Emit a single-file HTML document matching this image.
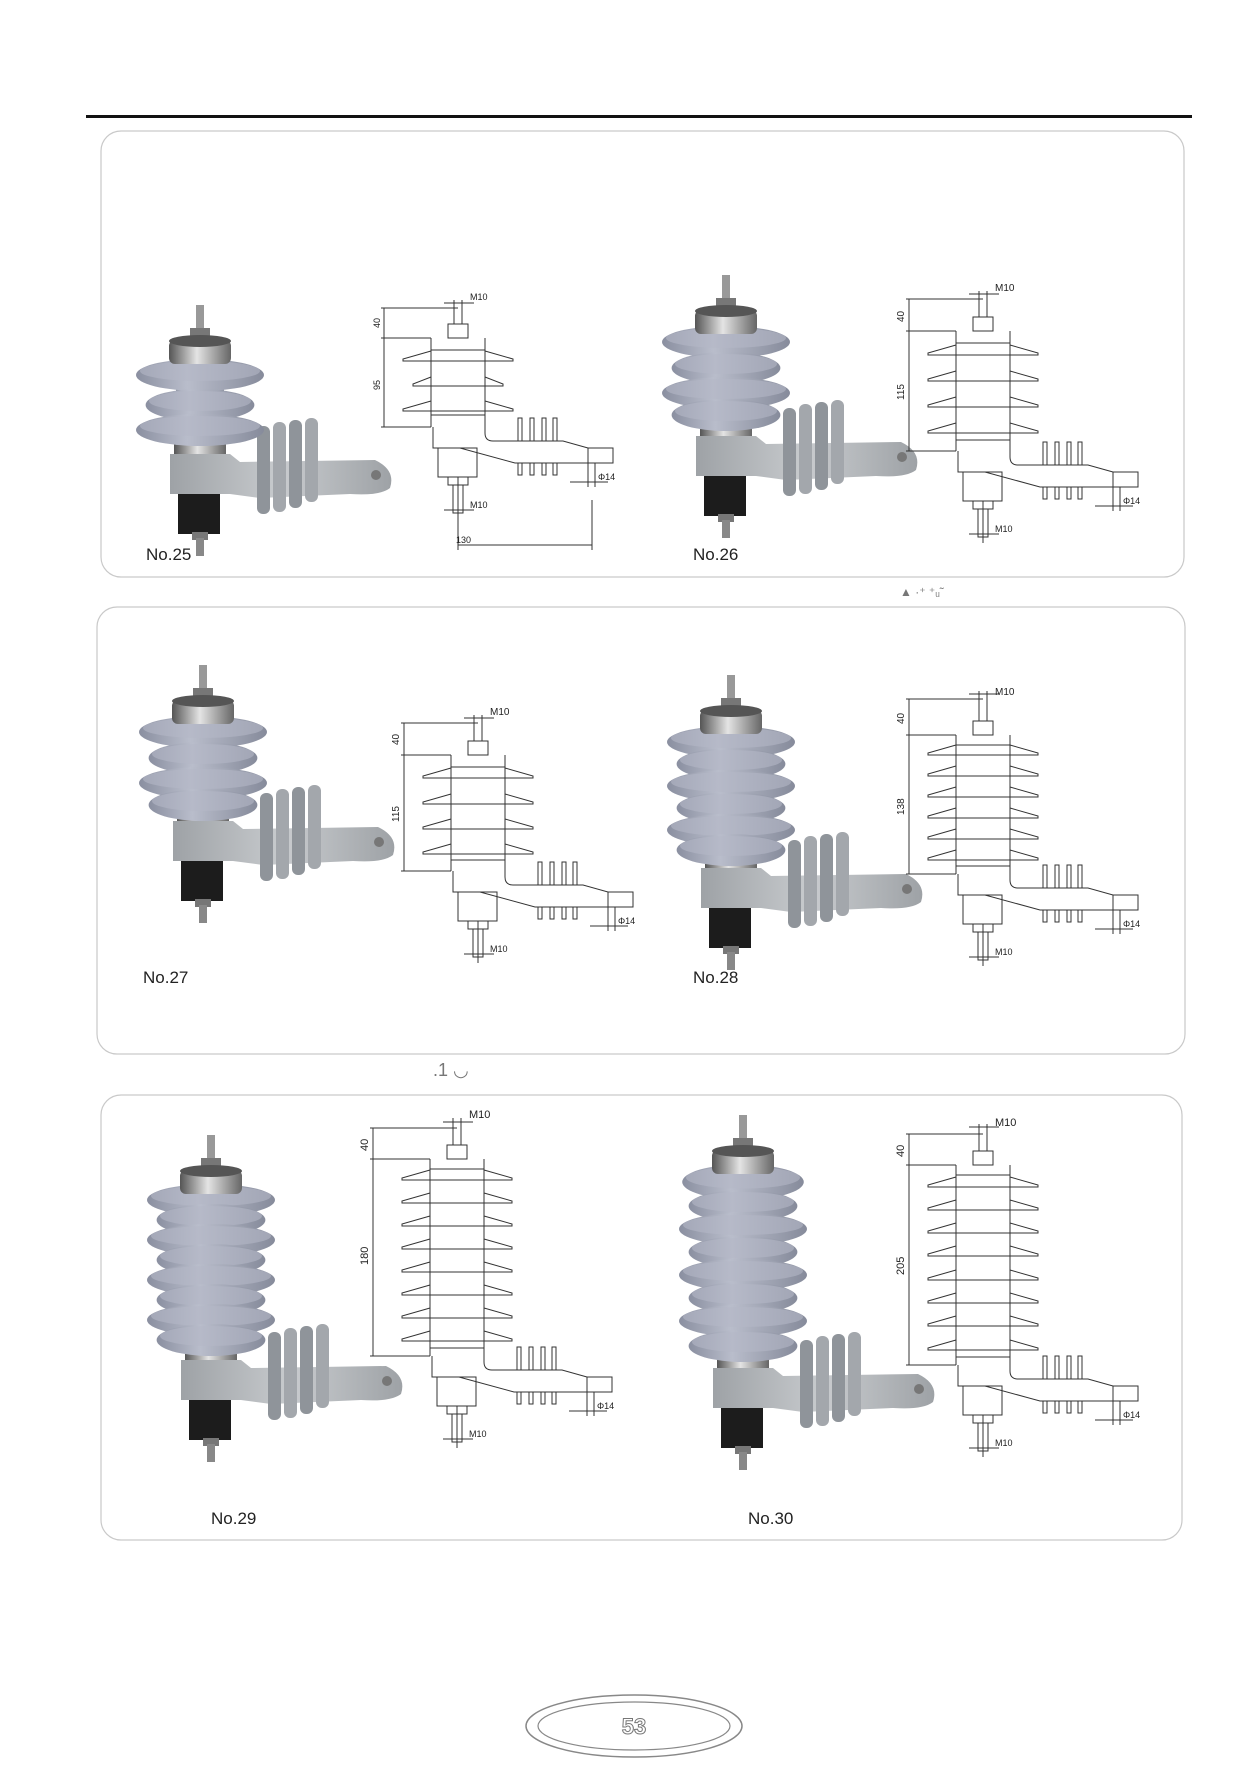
<!DOCTYPE html>
<html><head><meta charset="utf-8"><style>
html,body{margin:0;padding:0;background:#fff}
body{width:1257px;height:1766px;position:relative;overflow:hidden;font-family:"Liberation Sans",sans-serif}
</style></head><body>
<svg width="1257" height="1766" viewBox="0 0 1257 1766" xmlns="http://www.w3.org/2000/svg" style="position:absolute;left:0;top:0">
<defs>
<linearGradient id="shed" x1="0" y1="0" x2="1" y2="0">
<stop offset="0" stop-color="#8a8fa0"/><stop offset="0.4" stop-color="#b9bdcb"/><stop offset="1" stop-color="#868b9b"/></linearGradient>
<linearGradient id="metal" x1="0" y1="0" x2="1" y2="0">
<stop offset="0" stop-color="#555"/><stop offset="0.45" stop-color="#e4e4e4"/><stop offset="1" stop-color="#666"/></linearGradient>
<linearGradient id="gray" x1="0" y1="0" x2="1" y2="0">
<stop offset="0" stop-color="#9ea2a6"/><stop offset="0.5" stop-color="#c8cbce"/><stop offset="1" stop-color="#9ea2a6"/></linearGradient>
<g id="pbase">
<rect x="-26" y="-4" width="52" height="12" fill="url(#metal)"/>
<path d="M-30,6 L30,6 L40,14 L175,12 Q196,22 190,40 Q180,48 150,46 L60,50 L30,46 L-30,46 Z" fill="url(#gray)"/>
<circle cx="176" cy="27" r="5" fill="#777"/>
<rect x="57" y="-22" width="13" height="88" rx="6" fill="#8f949a"/>
<rect x="73" y="-26" width="13" height="90" rx="6" fill="#a3a7ac"/>
<rect x="89" y="-28" width="13" height="88" rx="6" fill="#8f949a"/>
<rect x="105" y="-30" width="13" height="84" rx="6" fill="#a3a7ac"/>
<rect x="-22" y="46" width="42" height="40" fill="#1c1c1c"/>
<rect x="-8" y="84" width="16" height="8" fill="#777"/>
<rect x="-4" y="90" width="8" height="18" fill="#888"/>
</g>
<g id="pcap">
<rect x="-4" y="-45" width="8" height="35" fill="#999"/>
<rect x="-10" y="-22" width="20" height="12" fill="#777"/>
<rect x="-31" y="-10" width="62" height="24" rx="6" fill="url(#metal)"/>
<ellipse cx="0" cy="-9" rx="31" ry="6" fill="#555"/>
</g>
<g id="dbase" fill="none" stroke="#333" stroke-width="1">
<path d="M-25,0 L-25,21 L2,21 L57,36 L130,36"/>
<path d="M27,0 L27,6 Q27,14 35,14 L105,14 L130,21"/>
<rect x="130" y="21" width="25" height="15"/>
<path d="M60,14 V-9 H64 V14 M72,14 V-9 H76 V14 M84,14 V-9 H88 V14 M95,14 V-9 H99 V14"/>
<path d="M60,36 V48 H64 V36 M72,36 V48 H76 V36 M84,36 V48 H88 V36 M95,36 V48 H99 V36"/>
<rect x="-20" y="21" width="39" height="29"/>
<rect x="-10" y="50" width="20" height="8"/>
<rect x="-5" y="58" width="10" height="28"/>
<path d="M0,50 V92 M-14,83 H16 M130,36 V60 M137,36 V60 M112,55 H150"/>
<text x="12" y="81" font-size="9" fill="#222" stroke="none">M10</text>
<text x="140" y="53" font-size="9" fill="#222" stroke="none">Φ14</text>
</g>
<path id="bigshed" d="M-27,-8 L-55,0 L-55,2 L55,2 L55,0 L27,-8" fill="none" stroke="#333"/>
<path id="smshed" d="M-27,-7 L-45,0 L-45,2 L45,2 L45,0 L27,-7" fill="none" stroke="#333"/>
<g id="bigp"><ellipse cx="0" cy="0" rx="64" ry="16" fill="url(#shed)"/><ellipse cx="0" cy="-4" rx="60" ry="10" fill="#b4b8c6" opacity="0.6"/></g>
</defs>

<rect x="86" y="115" width="1106" height="3" fill="#111"/>
<rect x="101" y="131" width="1083" height="446" rx="20" fill="none" stroke="#c9c9c9" stroke-width="1.2"/>
<rect x="97" y="607" width="1088" height="447" rx="20" fill="none" stroke="#c9c9c9" stroke-width="1.2"/>
<rect x="101" y="1095" width="1081" height="445" rx="20" fill="none" stroke="#c9c9c9" stroke-width="1.2"/>

<g font-size="17" fill="#222">
<text x="146" y="560">No.25</text><text x="693" y="560">No.26</text>
<text x="143" y="983">No.27</text><text x="693" y="983">No.28</text>
<text x="211" y="1524">No.29</text><text x="748" y="1524">No.30</text>
</g>

<!-- Photos -->
<!-- 25 -->
<g transform="translate(200,0)">
<use href="#pbase" y="448"/>
<rect x="-24" y="365" width="48" height="80" fill="#8c91a0"/>
<use href="#bigp" y="375"/><use href="#bigp" transform="translate(0,405) scale(0.85,1)"/><use href="#bigp" y="430"/>
<use href="#pcap" y="350"/>
</g>
<!-- 26 -->
<g transform="translate(726,0)">
<use href="#pbase" y="430"/>
<rect x="-24" y="331" width="48" height="95" fill="#8c91a0"/>
<use href="#bigp" y="342"/><use href="#bigp" transform="translate(0,368) scale(0.85,1)"/><use href="#bigp" y="393"/><use href="#bigp" transform="translate(0,415) scale(0.85,1)"/>
<use href="#pcap" y="320"/>
</g>
<!-- 27 -->
<g transform="translate(203,0)">
<use href="#pbase" y="815"/>
<rect x="-24" y="718" width="48" height="95" fill="#8c91a0"/>
<use href="#bigp" y="732"/><use href="#bigp" transform="translate(0,758) scale(0.85,1)"/><use href="#bigp" y="783"/><use href="#bigp" transform="translate(0,805) scale(0.85,1)"/>
<use href="#pcap" y="710"/>
</g>
<!-- 28 -->
<g transform="translate(731,0)">
<use href="#pbase" y="862"/>
<rect x="-24" y="731" width="48" height="128" fill="#8c91a0"/>
<use href="#bigp" y="742"/><use href="#bigp" transform="translate(0,764) scale(0.85,1)"/><use href="#bigp" y="786"/><use href="#bigp" transform="translate(0,808) scale(0.85,1)"/><use href="#bigp" y="830"/><use href="#bigp" transform="translate(0,850) scale(0.85,1)"/>
<use href="#pcap" y="720"/>
</g>
<!-- 29 -->
<g transform="translate(211,0)">
<use href="#pbase" y="1354"/>
<rect x="-24" y="1189" width="48" height="162" fill="#8c91a0"/>
<use href="#bigp" y="1200"/><use href="#bigp" transform="translate(0,1220) scale(0.85,1)"/><use href="#bigp" y="1240"/><use href="#bigp" transform="translate(0,1260) scale(0.85,1)"/><use href="#bigp" y="1280"/><use href="#bigp" transform="translate(0,1300) scale(0.85,1)"/><use href="#bigp" y="1320"/><use href="#bigp" transform="translate(0,1340) scale(0.85,1)"/>
<use href="#pcap" y="1180"/>
</g>
<!-- 30 -->
<g transform="translate(743,0)">
<use href="#pbase" y="1362"/>
<rect x="-24" y="1177" width="48" height="182" fill="#8c91a0"/>
<use href="#bigp" transform="translate(0,1182) scale(0.95,1.1)"/><use href="#bigp" transform="translate(0,1206) scale(0.85,1)"/><use href="#bigp" y="1229"/><use href="#bigp" transform="translate(0,1252) scale(0.85,1)"/><use href="#bigp" y="1275"/><use href="#bigp" transform="translate(0,1298) scale(0.85,1)"/><use href="#bigp" y="1321"/><use href="#bigp" transform="translate(0,1346) scale(0.85,1)"/>
<use href="#pcap" y="1160"/>
</g>

<!-- Drawings -->
<g fill="none" stroke="#333" stroke-width="1" font-size="10">
<!-- 25: cx458 top308 sh338 b427 -->
<g transform="translate(458,0)">
<path d="M-27,338 V427 M27,338 V427 M-27,350 H27 M-27,415 H27 M-10,324 H10 V338 H-10 Z M-4,300 V324 M4,300 V324 M-14,303 H16"/>
<path d="M-77,308 H0 M-77,338 H-27 M-77,427 H-27 M-74,308 V427"/>
<use href="#bigshed" y="359"/><use href="#smshed" y="384"/><use href="#bigshed" y="409"/>
<use href="#dbase" y="427"/>
<path d="M0,513 V550 M134,500 V550 M0,545 H134"/>
<text x="12" y="300" font-size="9" fill="#222" stroke="none">M10</text>
<text transform="translate(-78,328) rotate(-90)" font-size="9" fill="#222" stroke="none">40</text>
<text transform="translate(-78,390) rotate(-90)" font-size="9" fill="#222" stroke="none">95</text>
<text x="-2" y="543" font-size="9" fill="#222" stroke="none">130</text>
</g>
<!-- 26 -->
<g transform="translate(983,0)">
<path d="M-27,331 V451 M27,331 V451 M-27,343 H27 M-27,440 H27 M-10,317 H10 V331 H-10 Z M-4,291 V317 M4,291 V317 M-14,294 H16"/>
<path d="M-77,299 H0 M-77,331 H-27 M-77,451 H-27 M-74,299 V451"/>
<use href="#bigshed" y="353"/><use href="#bigshed" y="379"/><use href="#bigshed" y="405"/><use href="#bigshed" y="431"/>
<use href="#dbase" y="451"/>
<text x="12" y="291" font-size="10" fill="#222" stroke="none">M10</text>
<text transform="translate(-79,322) rotate(-90)" font-size="10" fill="#222" stroke="none">40</text>
<text transform="translate(-79,400) rotate(-90)" font-size="10" fill="#222" stroke="none">115</text>
</g>
<!-- 27 -->
<g transform="translate(478,0)">
<path d="M-27,755 V871 M27,755 V871 M-27,767 H27 M-27,860 H27 M-10,741 H10 V755 H-10 Z M-4,715 V741 M4,715 V741 M-14,718 H16"/>
<path d="M-77,723 H0 M-77,755 H-27 M-77,871 H-27 M-74,723 V871"/>
<use href="#bigshed" y="776"/><use href="#bigshed" y="802"/><use href="#bigshed" y="827"/><use href="#bigshed" y="852"/>
<use href="#dbase" y="871"/>
<text x="12" y="715" font-size="10" fill="#222" stroke="none">M10</text>
<text transform="translate(-79,745) rotate(-90)" font-size="10" fill="#222" stroke="none">40</text>
<text transform="translate(-79,822) rotate(-90)" font-size="10" fill="#222" stroke="none">115</text>
</g>
<!-- 28 -->
<g transform="translate(983,0)">
<path d="M-27,735 V874 M27,735 V874 M-27,745 H27 M-27,866 H27 M-10,721 H10 V735 H-10 Z M-4,691 V721 M4,691 V721 M-14,694 H16"/>
<path d="M-77,699 H0 M-77,735 H-27 M-77,874 H-27 M-74,699 V874"/>
<use href="#bigshed" y="753"/><use href="#bigshed" y="774"/><use href="#bigshed" y="795"/><use href="#bigshed" y="816"/><use href="#bigshed" y="837"/><use href="#bigshed" y="858"/>
<use href="#dbase" y="874"/>
<text x="12" y="695" font-size="10" fill="#222" stroke="none">M10</text>
<text transform="translate(-79,724) rotate(-90)" font-size="10" fill="#222" stroke="none">40</text>
<text transform="translate(-79,815) rotate(-90)" font-size="10" fill="#222" stroke="none">138</text>
</g>
<!-- 29 -->
<g transform="translate(457,0)">
<path d="M-27,1159 V1356 M27,1159 V1356 M-27,1169 H27 M-27,1348 H27 M-10,1145 H10 V1159 H-10 Z M-4,1118 V1145 M4,1118 V1145 M-14,1122 H16"/>
<path d="M-87,1128 H0 M-87,1159 H-27 M-87,1356 H-27 M-84,1128 V1356"/>
<use href="#bigshed" y="1178"/><use href="#bigshed" y="1201"/><use href="#bigshed" y="1224"/><use href="#bigshed" y="1247"/><use href="#bigshed" y="1270"/><use href="#bigshed" y="1293"/><use href="#bigshed" y="1316"/><use href="#bigshed" y="1339"/>
<use href="#dbase" y="1356"/>
<text x="12" y="1118" font-size="11" fill="#222" stroke="none">M10</text>
<text transform="translate(-89,1151) rotate(-90)" font-size="11" fill="#222" stroke="none">40</text>
<text transform="translate(-89,1265) rotate(-90)" font-size="11" fill="#222" stroke="none">180</text>
</g>
<!-- 30 -->
<g transform="translate(983,0)">
<path d="M-27,1165 V1365 M27,1165 V1365 M-27,1175 H27 M-27,1357 H27 M-10,1151 H10 V1165 H-10 Z M-4,1124 V1151 M4,1124 V1151 M-14,1127 H16"/>
<path d="M-77,1134 H0 M-77,1165 H-27 M-77,1365 H-27 M-74,1134 V1365"/>
<use href="#bigshed" y="1185"/><use href="#bigshed" y="1208"/><use href="#bigshed" y="1231"/><use href="#bigshed" y="1254"/><use href="#bigshed" y="1278"/><use href="#bigshed" y="1301"/><use href="#bigshed" y="1324"/><use href="#bigshed" y="1348"/>
<use href="#dbase" y="1365"/>
<text x="12" y="1126" font-size="11" fill="#222" stroke="none">M10</text>
<text transform="translate(-79,1157) rotate(-90)" font-size="11" fill="#222" stroke="none">40</text>
<text transform="translate(-79,1275) rotate(-90)" font-size="11" fill="#222" stroke="none">205</text>
</g>
</g>

<!-- stray marks -->
<g fill="#777" font-size="12"><text x="900" y="596">▲ ·⁺ ⁺ᵤ˜</text><text x="433" y="1076" font-size="18">.1 ◡</text></g>

<!-- page number -->
<ellipse cx="634" cy="1726" rx="108" ry="31" fill="none" stroke="#888" stroke-width="1.5"/>
<ellipse cx="634" cy="1726" rx="96" ry="24" fill="none" stroke="#888" stroke-width="1.2"/>
<text x="634" y="1734" text-anchor="middle" font-size="22" font-weight="bold" fill="#fff" stroke="#777" stroke-width="1">53</text>
</svg>
</body></html>
